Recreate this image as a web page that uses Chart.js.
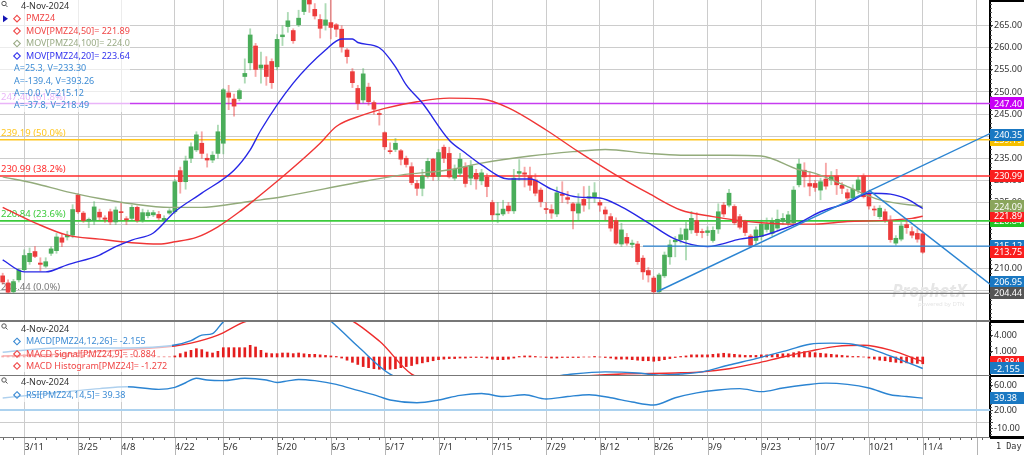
<!DOCTYPE html>
<html>
<head>
<meta charset="utf-8">
<script src="https://cdn.jsdelivr.net/npm/chart.js@4.4.1/dist/chart.umd.min.js"></script>
<style>
  body { margin: 0; background: #fff; overflow: hidden; }
  canvas { position: absolute; left: 0; }
</style>
</head>
<body>
<canvas id="main" width="1024" height="320" style="top:0"></canvas>
<canvas id="macd" width="1024" height="55" style="top:320px"></canvas>
<canvas id="rsi" width="1024" height="80" style="top:375px"></canvas>
<script>
// ---- data ----
const N = 184; // bar slots incl. empty space on the right
const tickIdx = [4, 14, 22, 32, 41, 51, 61, 71, 81, 91, 101, 111, 121, 131, 141, 151, 161, 171];
const tickText = ['3/11', '3/25', '4/8', '4/22', '5/6', '5/20', '6/3', '6/17', '7/1', '7/15', '7/29', '8/12', '8/26', '9/9', '9/23', '10/7', '10/21', '11/4'];
const gridIdx = tickIdx.concat([181]);

const opens = [
  208.4, 206.8, 204.8, 207.5, 209.8, 211.6, 213.9, 211.3, 210.6, 213.5,
  214.1, 217.0, 217.2, 217.6, 226.7, 222.6, 220.8, 220.9, 222.8, 221.5,
  222.9, 220.6, 222.9, 221.3, 221.4, 223.9, 221.0, 222.0, 222.2, 222.3,
  221.1, 222.6, 222.9, 232.2, 229.7, 235.0, 236.9, 238.4, 235.0, 234.6,
  236.1, 238.4, 249.8, 248.4, 248.5, 253.5, 256.6, 260.4, 255.4, 256.1,
  256.9, 255.7, 262.5, 264.8, 263.9, 265.2, 268.2, 272.0, 268.7, 266.4,
  265.1, 265.7, 265.2, 264.2, 259.5, 254.6, 250.8, 248.2, 251.1, 247.6,
  245.0, 240.8, 236.6, 237.0, 236.7, 235.0, 233.1, 229.3, 228.2, 231.0,
  234.8, 230.9, 237.5, 236.1, 230.5, 231.6, 233.1, 230.5, 231.6, 229.9,
  230.7, 225.0, 222.2, 222.4, 224.2, 223.1, 231.6, 231.7, 231.0, 230.1,
  227.8, 223.5, 223.4, 222.4, 226.9, 226.1, 224.7, 222.6, 225.7, 226.0,
  226.3, 225.0, 223.3, 221.8, 220.9, 215.6, 217.1, 215.5, 215.6, 212.4,
  209.6, 207.9, 204.8, 208.4, 212.7, 216.1, 216.6, 216.6, 218.8, 220.9,
  218.3, 218.2, 216.4, 219.0, 224.4, 224.4, 224.1, 221.8, 220.7, 217.4,
  216.4, 217.3, 218.9, 218.0, 219.2, 220.7, 220.3, 220.4, 229.0, 232.3,
  229.3, 229.3, 227.8, 230.3, 230.1, 231.0, 228.9, 227.2, 226.0, 227.8,
  231.0, 227.1, 223.4, 221.8, 222.9, 220.7, 215.8, 216.7, 220.0, 218.4,
  218.0, 217.9
];
const highs = [
  209.0, 207.5, 207.6, 210.0, 214.3, 214.7, 215.0, 212.5, 212.5, 215.0,
  218.0, 218.0, 218.5, 224.5, 227.0, 223.0, 221.5, 225.2, 223.5, 222.0,
  223.5, 224.0, 225.0, 221.8, 224.4, 224.2, 223.5, 223.3, 223.2, 223.0,
  222.0, 223.6, 230.2, 233.0, 235.5, 238.5, 241.0, 241.0, 236.0, 236.5,
  242.5, 250.8, 251.5, 249.5, 250.7, 257.5, 264.3, 261.0, 259.0, 258.0,
  257.5, 263.0, 265.0, 268.0, 264.3, 268.5, 273.0, 273.95, 270.0, 267.5,
  270.0, 271.0, 265.5, 265.0, 259.8, 255.3, 251.5, 255.3, 252.0, 248.0,
  245.7, 241.0, 238.5, 239.5, 237.0, 235.5, 234.0, 230.0, 232.5, 235.0,
  235.0, 237.0, 238.0, 237.5, 233.5, 236.1, 234.0, 234.5, 232.5, 232.5,
  231.5, 225.5, 225.0, 225.5, 225.0, 232.5, 234.7, 233.0, 233.0, 231.5,
  228.3, 225.0, 224.5, 228.5, 229.7, 227.5, 225.0, 227.0, 228.6, 228.7,
  229.5, 225.5, 224.0, 222.5, 221.5, 220.3, 218.0, 216.5, 216.2, 213.0,
  210.3, 208.3, 209.0, 213.8, 216.5, 217.3, 219.2, 220.5, 223.0, 222.7,
  219.0, 219.5, 219.5, 224.7, 225.0, 228.0, 224.5, 222.3, 221.0, 217.8,
  219.5, 221.0, 221.5, 221.5, 223.3, 222.5, 223.0, 228.6, 234.8, 234.0,
  232.0, 230.0, 230.5, 233.9, 232.0, 232.5, 229.5, 228.0, 229.0, 230.8,
  231.5, 227.5, 224.2, 224.3, 223.5, 222.0, 217.5, 220.5, 221.0, 219.5,
  219.0, 218.5
];
const lows = [
  206.5, 204.6, 204.5, 207.0, 209.5, 211.0, 212.5, 209.5, 210.3, 213.0,
  213.5, 215.0, 216.5, 217.0, 222.5, 220.5, 219.3, 220.0, 221.0, 220.5,
  220.0, 220.0, 221.0, 220.0, 221.0, 220.5, 220.5, 221.5, 221.8, 221.0,
  220.8, 222.3, 222.5, 227.1, 228.0, 234.0, 236.5, 235.0, 233.0, 234.0,
  235.0, 236.0, 246.0, 244.5, 248.0, 252.0, 255.0, 253.5, 252.0, 251.5,
  250.8, 255.0, 260.5, 263.5, 261.0, 264.8, 267.5, 268.0, 266.5, 262.2,
  264.0, 262.0, 262.5, 259.0, 256.5, 251.0, 246.0, 247.5, 247.0, 245.0,
  242.5, 237.0, 236.0, 236.5, 233.5, 233.0, 229.0, 226.6, 226.5, 230.5,
  230.0, 230.0, 234.0, 230.5, 230.0, 231.0, 228.5, 229.0, 228.0, 229.0,
  226.3, 221.0, 220.4, 222.0, 222.5, 222.5, 230.0, 228.5, 227.7, 226.5,
  224.0, 222.5, 221.4, 221.8, 225.0, 224.7, 219.0, 221.0, 223.0, 223.5,
  225.0, 223.0, 221.0, 218.5, 215.5, 215.0, 215.3, 214.8, 211.0, 207.6,
  207.0, 204.44, 204.5, 208.0, 211.0, 212.7, 215.8, 212.0, 218.0, 217.5,
  217.0, 217.5, 216.0, 218.0, 221.8, 224.0, 220.0, 219.0, 217.5, 214.8,
  215.5, 216.5, 218.3, 217.5, 218.8, 220.0, 219.8, 220.0, 228.5, 228.5,
  226.5, 227.5, 225.6, 228.0, 229.0, 226.8, 227.0, 225.5, 225.5, 227.0,
  226.0, 223.5, 222.0, 221.3, 220.5, 216.0, 215.3, 216.3, 218.0, 217.0,
  216.0, 213.5
];
const closes = [
  207.0, 204.7, 207.1, 209.7, 213.0, 213.5, 212.8, 211.0, 211.6, 214.5,
  217.2, 216.0, 217.6, 223.4, 222.9, 220.9, 221.2, 224.0, 221.7, 221.2,
  220.6, 223.3, 222.7, 221.1, 223.9, 220.9, 222.7, 222.7, 222.7, 221.5,
  221.4, 223.1, 229.7, 229.7, 234.4, 237.6, 240.3, 236.1, 234.6, 235.7,
  241.0, 250.5, 248.8, 246.8, 250.3, 254.2, 262.9, 255.1, 256.1, 253.5,
  252.1, 261.9, 262.9, 266.1, 261.6, 266.7, 272.0, 269.9, 267.2, 264.4,
  266.3, 264.6, 264.2, 260.2, 258.0, 252.1, 247.4, 254.1, 247.8, 246.1,
  244.9, 237.6, 236.5, 238.4, 234.8, 233.6, 229.5, 228.2, 231.0, 234.3,
  230.9, 236.3, 235.0, 230.8, 232.5, 234.8, 229.3, 233.3, 230.3, 231.7,
  228.6, 222.2, 222.4, 223.5, 223.1, 230.5, 232.0, 231.4, 228.9, 227.1,
  225.2, 223.4, 222.6, 227.2, 226.6, 225.7, 223.1, 224.7, 224.4, 226.3,
  227.2, 224.4, 222.4, 219.2, 215.8, 218.8, 215.8, 215.8, 211.6, 209.3,
  208.6, 204.8, 208.6, 213.1, 215.4, 216.5, 217.7, 219.0, 221.4, 218.2,
  218.2, 218.6, 218.7, 222.9, 222.4, 227.1, 220.4, 219.4, 218.2, 215.3,
  218.8, 220.1, 220.1, 220.7, 221.2, 221.4, 222.2, 227.8, 233.7, 230.8,
  228.7, 228.4, 229.7, 228.7, 230.8, 229.0, 228.2, 226.0, 228.0, 230.1,
  226.3, 224.2, 223.3, 223.7, 221.0, 216.6, 216.9, 219.7, 219.3, 217.6,
  216.7, 213.75
];

// moving averages, read at sampled bars
const ma20Idx = [0, 4, 8, 12, 18, 21, 24, 28, 32, 37, 43, 46, 48, 54, 60, 63, 65, 66, 70, 73, 75, 78, 83, 86, 89, 94, 98, 102, 107, 111, 115, 120, 125, 131, 133, 137, 141, 145, 148, 152, 157, 161, 165, 168, 171];
const ma20Val = [212.0, 209.3, 209.3, 210.9, 213.1, 215.0, 216.5, 218.1, 222.9, 227.1, 232.3, 236.9, 241.4, 252.0, 259.5, 262.0, 262.0, 261.2, 260.0, 255.7, 251.6, 247.5, 239.1, 236.2, 233.5, 230.3, 230.3, 228.0, 226.2, 226.0, 224.0, 220.4, 216.7, 215.0, 215.4, 216.7, 217.4, 219.0, 220.4, 222.9, 224.9, 227.1, 226.9, 225.8, 223.64];
const ma50Idx = [0, 6, 12, 18, 24, 29, 32, 36, 40, 44, 46, 52, 59, 62, 67, 71, 77, 83, 89, 94, 101, 107, 114, 120, 126, 132, 137, 141, 146, 151, 157, 163, 169, 171];
const ma50Val = [223.9, 220.4, 217.6, 216.7, 215.9, 215.6, 216.1, 217.1, 219.5, 222.9, 224.8, 230.8, 238.4, 242.2, 244.8, 246.3, 247.8, 248.6, 248.4, 246.4, 241.4, 236.5, 231.2, 227.1, 223.3, 221.8, 220.9, 220.4, 220.1, 220.1, 220.7, 220.9, 221.4, 221.89];
const ma100Idx = [0, 6, 12, 18, 24, 31, 37, 43, 48, 52, 65, 74, 83, 89, 98, 106, 112, 120, 126, 135, 141, 148, 151, 157, 163, 171];
const ma100Val = [230.8, 229.3, 227.4, 225.9, 224.7, 223.9, 223.9, 224.7, 225.6, 226.3, 229.3, 231.2, 232.4, 233.9, 235.5, 236.5, 237.0, 236.1, 235.7, 235.7, 235.5, 232.4, 231.6, 228.6, 225.6, 224.09];

// MACD panel
const macdIdx = [0, 10, 22, 32, 35, 37, 39, 41, 45, 55, 60, 66, 72, 80, 90, 100, 106, 112, 118, 122, 126, 130, 135, 140, 146, 150, 154, 158, 162, 167, 171];
const macdVal = [0.9, 1.7, 1.7, 2.25, 3.06, 4.1, 4.4, 6.6, 9, 10, 7.5, 2, -3.2, -5.5, -5, -4, -3.2, -2.8, -3, -3.4, -3.2, -2.8, -1.5, -0.3, 1.3, 2.4, 2.6, 2.4, 1.3, -0.6, -2.155];
const signalIdx = [0, 10, 22, 32, 35, 40, 45, 55, 62, 70, 76, 85, 95, 105, 115, 125, 130, 135, 140, 145, 150, 155, 160, 165, 171];
const signalVal = [0.2, 0.5, 1.3, 2.06, 2.6, 4.1, 6.6, 8.5, 8, 3, -3.2, -5, -4.8, -3.8, -3.2, -3, -2.8, -2.2, -1.2, 0, 1.1, 2, 2.2, 1.3, -0.884];
const histVal = [
  0.2, 0.2, 0.3, 0.3, 0.4, 0.4, 0.3, 0.3, 0.2, 0.3, 0.3, 0.4, 0.4, 0.3, 0.3, 0.4, 0.3, 0.2, 0.2, 0.2,
  0.1, 0.1, 0.2, 0.1, 0.1, 0.1, 0.1, 0.2, 0.1, 0.1, 0.1, 0.1, 0.2,
  0.63, 0.94, 1.25, 1.56, 1.38, 0.94, 0.75, 1.06, 1.75, 1.75, 1.75, 1.75, 1.75, 2.19, 1.88, 1.25, 0.75, 0.63, 0.63, 0.75, 0.75, 0.63, 0.75,
  0.6, 0.5, 0.5, 0.4, 0.3, 0.2, 0.1, -0.2, -0.6,
  -1.0, -1.4, -1.8, -2.0, -2.2, -2.3, -2.4, -2.3, -2.2, -2.0, -1.8, -1.6, -1.3, -1.1, -0.9, -0.7,
  -0.5, -0.4, -0.3, -0.3, -0.2, -0.2, -0.1, -0.1, -0.1, -0.2, -0.4, -0.5, -0.5, -0.4, -0.2, 0.1, 0.2, 0.2, 0.1, 0.0,
  -0.1, -0.2, -0.2, -0.1, -0.1, -0.1, -0.1, 0.0, 0.0, 0.1, 0.0, -0.1, -0.2, -0.4, -0.4, -0.4, -0.5, -0.6, -0.7, -0.7,
  -0.8, -0.7, -0.5, -0.3, -0.1, 0.1, 0.2, 0.4, 0.4, 0.4, 0.4, 0.5, 0.6, 0.7, 0.6, 0.5, 0.4, 0.3, 0.3, 0.3,
  0.4, 0.4, 0.5, 0.5, 0.6, 0.6, 0.8, 1.0, 1.0, 0.9, 0.8, 0.7, 0.6, 0.5, 0.4, 0.3, 0.2, 0.1, 0.1, 0.0,
  -0.2, -0.4, -0.6, -0.7, -0.9, -1.0, -1.1, -1.1, -1.2, -1.2, -1.272
];

// RSI panel
const rsiIdx = [0, 6, 12, 18, 23, 29, 32, 34, 36, 38, 41, 45, 49, 51, 53, 55, 58, 62, 66, 70, 72, 77, 81, 85, 89, 93, 97, 101, 105, 109, 113, 117, 121, 125, 129, 133, 137, 141, 145, 149, 153, 157, 161, 165, 168, 171];
const rsiVal = [39.6, 45, 50, 55, 58, 53.8, 57, 64.6, 71.8, 69, 68, 71.8, 69, 65, 67.6, 70, 68, 62, 52, 42, 36.3, 31.9, 36.3, 44, 47, 42, 45, 38, 42, 45, 40, 33, 28.2, 40, 48, 52.7, 55, 50, 56, 60.8, 64, 62, 56, 45, 42, 39.38];

// studies
const fibValues = [247.40, 239.19, 230.99, 220.84, 204.44];
const fibNames = ['61.8%', '50.0%', '38.2%', '23.6%', '0.0%'];
const trendFrom = [[121.6, 204.8], [161, 227.8], [119, 215.12]];
const trendTo = [[183, 240.3], [183, 207.0], [183, 215.12]];
const tagValues = [239.19, 240.35, 247.40, 230.99, 220.84, 221.89, 224.09, 215.12, 213.75, 206.95, 204.44];
const priceTicks = [265, 260, 255, 250, 245, 240, 235, 230, 225, 220, 215, 210, 205];
const macdTicks = [4, 1, -2];
const macdTags = [-0.884, -2.155];
const rsiTicks = [60, 20, 0, -10];
const rsiTag = 39.38;

// ---- styles ----
const FONT = '"Noto Sans", "Open Sans", sans-serif';
const C = {
  up: '#4aad5a', down: '#ec3c3c',
  upWick: 'rgba(74,173,90,0.45)', downWick: 'rgba(236,60,60,0.45)',
  ma50: '#f03636', ma100: '#93ab7b', ma20: '#2727e6', trend: '#2b84d2',
  macd: '#2b84d2', signal: '#ee2c2c', hist: '#e41e1e', rsi: '#2b84d2', rsiLevel: '#acd2ef',
  fib: ['#c63cf0', '#ffc620', '#ff2b2b', '#3ccb3c', '#7a7a7a'],
  tags: ['#f5c000', '#1a78c2', '#c800f5', '#fa1e1e', '#22c322', '#fa1e1e', '#8aa55c', '#1a78c2', '#fa1e1e', '#1a78c2', '#555555'],
  grid: '#cccccc', text: '#333333', legendBlue: '#3c8bd4', legendRed: '#f04646', legendOlive: '#9aab86', legendMa20: '#3333ee'
};

const labels = Array.from({ length: N }, (_, i) => {
  const k = tickIdx.indexOf(i);
  return k >= 0 ? tickText[k] : '';
});
function sparse(idx, val) {
  const a = new Array(N).fill(null);
  idx.forEach((k, j) => { a[k] = val[j]; });
  return a;
}

function xScale(showLabels) {
  const s = {
    offset: true,
    grid: {
      offset: false, drawTicks: false, lineWidth: 1,
      color: c => gridIdx.includes(c.index) ? C.grid : 'rgba(0,0,0,0)'
    },
    border: { display: false },
    ticks: { display: false }
  };
  if (showLabels) {
    s.ticks = {
      display: true, autoSkip: false, maxRotation: 0, minRotation: 0, align: 'start', padding: 5,
      color: C.text, font: { family: FONT, size: 9.5 }, callback: (v, i) => labels[i]
    };
    s.afterFit = sc => { sc.height = 18; sc.paddingLeft = 0; sc.paddingRight = 0; };
  }
  return s;
}
function yScale(min, max, ticks, fmt, gridColor) {
  return {
    position: 'right', min: min, max: max,
    afterBuildTicks: s => { s.ticks = ticks.map(v => ({ value: v })); },
    afterFit: s => { s.width = 34; s.paddingTop = 0; s.paddingBottom = 0; },
    ticks: { callback: fmt, color: C.text, font: { family: FONT, size: 9 }, padding: 1 },
    grid: { color: gridColor, tickLength: 3, tickColor: '#444' },
    border: { color: '#000', width: 2 }
  };
}
const baseOpts = {
  responsive: false, animation: false, events: [],
  plugins: { legend: { display: false }, tooltip: { enabled: false } }
};

// ---- drawing helpers ----
function diamond(ctx, cx, cy, color) {
  ctx.beginPath();
  ctx.moveTo(cx, cy - 3.3); ctx.lineTo(cx + 3.3, cy); ctx.lineTo(cx, cy + 3.3); ctx.lineTo(cx - 3.3, cy);
  ctx.closePath();
  ctx.strokeStyle = color; ctx.lineWidth = 1.1; ctx.stroke();
}
function magnifier(ctx, y) {
  ctx.strokeStyle = '#555'; ctx.lineWidth = 1;
  ctx.beginPath(); ctx.arc(4, y, 2.2, 0, Math.PI * 2); ctx.stroke();
  ctx.beginPath(); ctx.moveTo(5.7, y + 1.7); ctx.lineTo(7.5, y + 3.5); ctx.stroke();
}
function legend(ctx, boxW, boxH, top, rows) {
  ctx.save();
  ctx.fillStyle = 'rgba(255,255,255,0.62)';
  ctx.fillRect(0, top, boxW, boxH);
  ctx.beginPath(); ctx.rect(0, top, boxW, boxH); ctx.clip();
  ctx.font = '9px ' + FONT; ctx.textBaseline = 'middle'; ctx.textAlign = 'left';
  rows.forEach(r => {
    if (r.dia) diamond(ctx, 17, r.y, r.c);
    if (r.arrow) {
      ctx.fillStyle = '#1414b4';
      ctx.beginPath(); ctx.moveTo(3, r.y - 3.5); ctx.lineTo(8, r.y); ctx.lineTo(3, r.y + 3.5); ctx.closePath(); ctx.fill();
    }
    ctx.fillStyle = r.c;
    ctx.fillText(r.t, r.x, r.y);
  });
  ctx.restore();
}
function tag(ctx, y, value, color, digits) {
  ctx.fillStyle = color;
  ctx.fillRect(990, Math.round(y - 6), 34, 12);
  ctx.fillStyle = '#fff';
  ctx.font = '9px ' + FONT; ctx.textBaseline = 'middle'; ctx.textAlign = 'left';
  ctx.fillText(value.toFixed(digits), 994, y + 0.5);
}
function minorTicks(ctx, yS, from, to, step) {
  ctx.strokeStyle = '#555'; ctx.lineWidth = 1;
  for (let v = from; v <= to + 1e-9; v += step) {
    const py = Math.round(yS.getPixelForValue(v)) + 0.5;
    ctx.beginPath(); ctx.moveTo(990, py); ctx.lineTo(992, py); ctx.stroke();
  }
}

// ---- main price panel ----
const mainDecor = {
  id: 'mainDecor',
  beforeDatasetsDraw(chart) {
    const { ctx, chartArea: a, scales: { y } } = chart;
    ctx.save();
    // watermark
    ctx.fillStyle = '#e6e6e6';
    ctx.font = 'bold italic 17px ' + FONT; ctx.textBaseline = 'middle'; ctx.textAlign = 'left';
    ctx.fillText('ProphetX', 892, 292);
    ctx.font = '6px ' + FONT;
    ctx.fillText('powered by DTN', 918, 304);
    // fibonacci levels
    fibValues.forEach((v, k) => {
      const py = y.getPixelForValue(v);
      ctx.strokeStyle = C.fib[k]; ctx.lineWidth = k === 4 ? 1.2 : 1.6;
      ctx.beginPath(); ctx.moveTo(a.left, py); ctx.lineTo(a.right, py); ctx.stroke();
      ctx.fillStyle = C.fib[k];
      ctx.font = '9.5px ' + FONT;
      ctx.fillText(v.toFixed(2) + ' (' + fibNames[k] + ')', 1, py - 6.5);
    });
    ctx.restore();
  },
  afterDatasetsDraw(chart) {
    const { ctx, chartArea: a, scales: { x, y } } = chart;
    ctx.save();
    ctx.beginPath(); ctx.rect(a.left, a.top, a.right - a.left, a.bottom - a.top); ctx.clip();
    ctx.strokeStyle = C.trend; ctx.lineWidth = 1.4;
    trendFrom.forEach((p, k) => {
      const x0 = x.getPixelForValue(p[0]), y0 = y.getPixelForValue(p[1]);
      const x1 = x.getPixelForValue(trendTo[k][0]), y1 = y.getPixelForValue(trendTo[k][1]);
      const slope = (y1 - y0) / (x1 - x0);
      ctx.beginPath(); ctx.moveTo(x0, y0); ctx.lineTo(a.right, y0 + slope * (a.right - x0)); ctx.stroke();
    });
    ctx.restore();
  },
  afterDraw(chart) {
    const { ctx, scales: { y } } = chart;
    ctx.save();
    legend(ctx, 130, 112, 0, [
      { y: 6.5, x: 21, t: '4-Nov-2024', c: C.text },
      { y: 18.7, x: 26, t: 'PMZ24', c: C.legendRed, dia: true, arrow: true },
      { y: 31, x: 26, t: 'MOV[PMZ24,50]= 221.89', c: C.legendRed, dia: true },
      { y: 43.5, x: 26, t: 'MOV[PMZ24,100]= 224.09', c: C.legendOlive, dia: true },
      { y: 56, x: 26, t: 'MOV[PMZ24,20]= 223.64', c: C.legendMa20, dia: true },
      { y: 68.5, x: 14, t: 'A=25.3, V=233.30', c: C.legendBlue },
      { y: 81, x: 14, t: 'A=-139.4, V=393.26', c: C.legendBlue },
      { y: 93, x: 14, t: 'A=-0.0, V=215.12', c: C.legendBlue },
      { y: 105, x: 14, t: 'A=-37.8, V=218.49', c: C.legendBlue }
    ]);
    magnifier(ctx, 3.5);
    minorTicks(ctx, y, 199, 270, 1);
    tagValues.forEach((v, k) => tag(ctx, y.getPixelForValue(v), v, C.tags[k], 2));
    ctx.fillStyle = '#000';
    ctx.fillRect(990, 0, 34, 2);
    ctx.restore();
  }
};

new Chart(document.getElementById('main'), {
  type: 'bar',
  data: {
    labels: labels,
    datasets: [
      { type: 'line', data: sparse(ma20Idx, ma20Val), borderColor: C.ma20, borderWidth: 1.4, pointRadius: 0, spanGaps: true, cubicInterpolationMode: 'monotone', order: 0 },
      { type: 'line', data: sparse(ma50Idx, ma50Val), borderColor: C.ma50, borderWidth: 1.4, pointRadius: 0, spanGaps: true, cubicInterpolationMode: 'monotone', order: 0 },
      { type: 'line', data: sparse(ma100Idx, ma100Val), borderColor: C.ma100, borderWidth: 1.4, pointRadius: 0, spanGaps: true, cubicInterpolationMode: 'monotone', order: 0 },
      { data: opens.map((o, i) => [o, closes[i]]), backgroundColor: opens.map((o, i) => closes[i] >= o ? C.up : C.down), barThickness: 4, grouped: false, minBarLength: 1, order: 1 },
      { data: lows.map((l, i) => [l, highs[i]]), backgroundColor: opens.map((o, i) => closes[i] >= o ? C.upWick : C.downWick), barThickness: 1.2, grouped: false, order: 2 }
    ]
  },
  options: Object.assign({}, baseOpts, {
    scales: {
      x: xScale(false),
      y: yScale(198.41, 270.81, priceTicks, v => v.toFixed(2), C.grid)
    }
  }),
  plugins: [mainDecor]
});

// ---- MACD panel ----
const macdDecor = {
  id: 'macdDecor',
  afterDraw(chart) {
    const { ctx, scales: { y } } = chart;
    ctx.save();
    legend(ctx, 172, 50, 2, [
      { y: 9, x: 21, t: '4-Nov-2024', c: C.text },
      { y: 21.5, x: 26, t: 'MACD[PMZ24,12,26]= -2.155', c: C.legendBlue, dia: true },
      { y: 34, x: 26, t: 'MACD Signal[PMZ24,9]= -0.884', c: C.legendRed, dia: true },
      { y: 46, x: 26, t: 'MACD Histogram[PMZ24]= -1.272', c: C.legendRed, dia: true }
    ]);
    magnifier(ctx, 6);
    minorTicks(ctx, y, -3, 6, 1);
    tag(ctx, y.getPixelForValue(macdTags[0]), macdTags[0], '#fa1e1e', 3);
    tag(ctx, y.getPixelForValue(macdTags[1]), macdTags[1], '#1a78c2', 3);
    ctx.fillStyle = '#777'; ctx.fillRect(0, 0, 990, 2);
    ctx.fillStyle = '#000'; ctx.fillRect(990, 0, 34, 3);
    ctx.restore();
  }
};
new Chart(document.getElementById('macd'), {
  type: 'bar',
  data: {
    labels: labels,
    datasets: [
      { type: 'line', data: sparse(macdIdx, macdVal), borderColor: C.macd, borderWidth: 1.4, pointRadius: 0, spanGaps: true, cubicInterpolationMode: 'monotone', order: 0 },
      { type: 'line', data: sparse(signalIdx, signalVal), borderColor: C.signal, borderWidth: 1.4, pointRadius: 0, spanGaps: true, cubicInterpolationMode: 'monotone', order: 0 },
      { data: histVal, backgroundColor: C.hist, barThickness: 2, order: 1 }
    ]
  },
  options: Object.assign({}, baseOpts, {
    layout: { padding: { top: 2 } },
    scales: {
      x: xScale(false),
      y: yScale(-3.38, 6.57, macdTicks, v => v.toFixed(3), 'rgba(0,0,0,0)')
    }
  }),
  plugins: [macdDecor]
});

// ---- RSI panel ----
const rsiDecor = {
  id: 'rsiDecor',
  beforeDatasetsDraw(chart) {
    const { ctx, chartArea: a, scales: { y } } = chart;
    const py = y.getPixelForValue(20);
    ctx.save();
    ctx.strokeStyle = C.rsiLevel; ctx.lineWidth = 2;
    ctx.beginPath(); ctx.moveTo(a.left, py); ctx.lineTo(a.right, py); ctx.stroke();
    ctx.restore();
  },
  afterDraw(chart) {
    const { ctx, chartArea: a, scales: { x, y } } = chart;
    ctx.save();
    legend(ctx, 128, 26, 1, [
      { y: 7.7, x: 21, t: '4-Nov-2024', c: C.text },
      { y: 20, x: 26, t: 'RSI[PMZ24,14,5]= 39.38', c: C.legendBlue, dia: true }
    ]);
    magnifier(ctx, 5);
    minorTicks(ctx, y, -20, 70, 5);
    tag(ctx, y.getPixelForValue(rsiTag), rsiTag, '#1a78c2', 2);
    ctx.fillStyle = '#777'; ctx.fillRect(0, 0, 990, 1);
    ctx.fillStyle = '#000'; ctx.fillRect(990, 0, 34, 2);
    // bottom axis line, day ticks and label separators
    ctx.fillStyle = '#777'; ctx.fillRect(0, a.bottom, 990, 1);
    ctx.fillStyle = '#000'; ctx.fillRect(990, a.bottom - 1, 34, 3);
    ctx.strokeStyle = '#666'; ctx.lineWidth = 1;
    for (let i = 0; i < N; i += 2) {
      const px = Math.round(x.getPixelForValue(i)) + 0.5;
      ctx.beginPath(); ctx.moveTo(px, a.bottom + 1); ctx.lineTo(px, a.bottom + 3); ctx.stroke();
    }
    ctx.strokeStyle = '#b4b4b4';
    gridIdx.forEach(i => {
      const px = Math.round(x.getPixelForValue(i)) + 0.5;
      ctx.beginPath(); ctx.moveTo(px, a.bottom + 1); ctx.lineTo(px, chart.height); ctx.stroke();
    });
    ctx.fillStyle = '#fff'; ctx.fillRect(990, a.bottom + 2, 34, chart.height);
    ctx.fillStyle = C.text;
    ctx.font = '8.5px "DejaVu Sans Mono", monospace'; ctx.textBaseline = 'middle'; ctx.textAlign = 'left';
    ctx.fillText('1 Day', 996, a.bottom + 10);
    ctx.restore();
  }
};
new Chart(document.getElementById('rsi'), {
  type: 'line',
  data: {
    labels: labels,
    datasets: [
      { data: sparse(rsiIdx, rsiVal), borderColor: C.rsi, borderWidth: 1.4, pointRadius: 0, spanGaps: true, cubicInterpolationMode: 'monotone' }
    ]
  },
  options: Object.assign({}, baseOpts, {
    layout: { padding: { top: 1 } },
    scales: {
      x: xScale(true),
      y: yScale(-24.1, 75.6, rsiTicks, v => v === 0 ? '' : v.toFixed(2), c => c.tick && c.tick.value === 0 ? C.grid : 'rgba(0,0,0,0)')
    }
  }),
  plugins: [rsiDecor]
});
</script>
</body>
</html>
